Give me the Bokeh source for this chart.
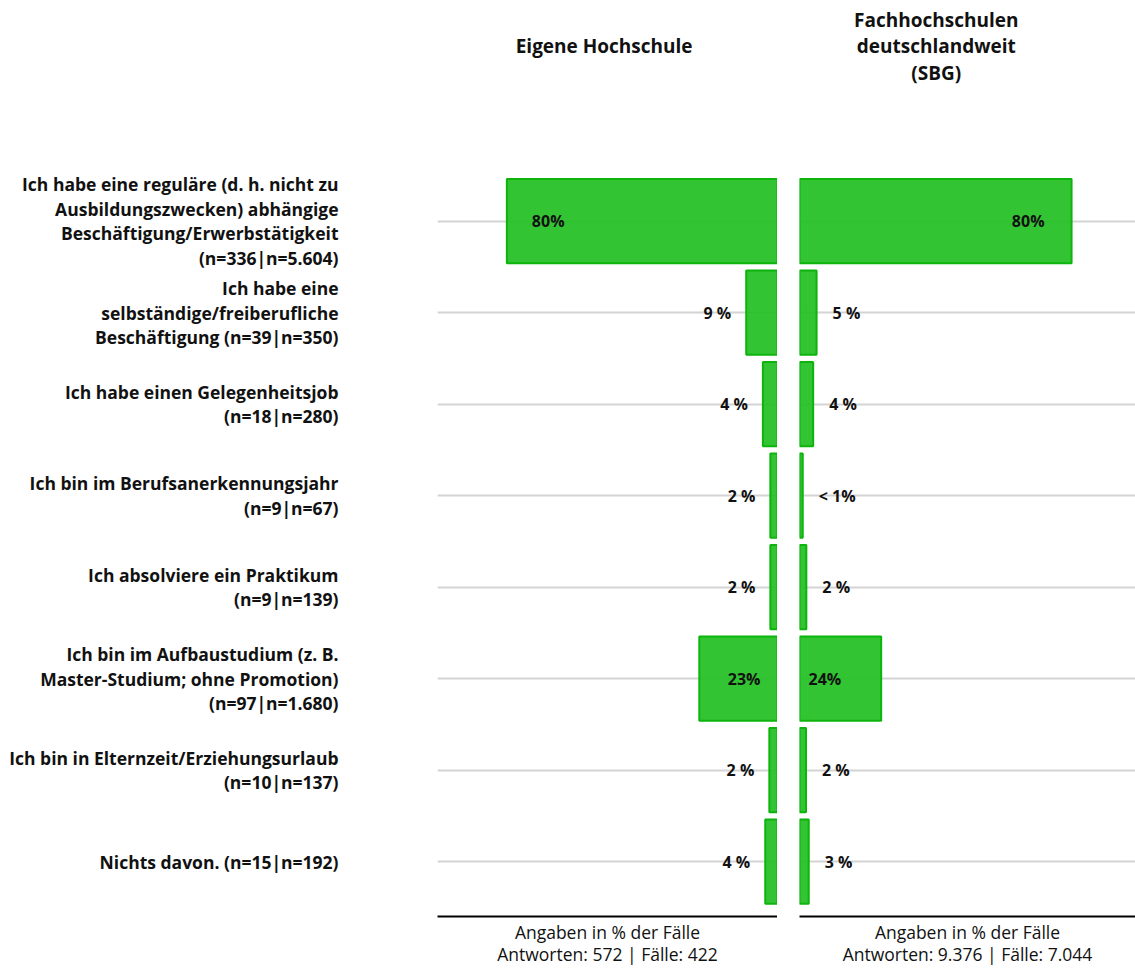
from bokeh.plotting import figure
from bokeh.layouts import row
from bokeh.models import Range1d, FixedTicker, Grid, ColumnDataSource
from bokeh.core.properties import value
from bokeh.embed import file_html
from bokeh.resources import INLINE

# ---------------- data ----------------
categories = [
    "Ich habe eine reguläre (d. h. nicht zu\nAusbildungszwecken) abhängige\nBeschäftigung/Erwerbstätigkeit\n(n=336|n=5.604)",
    "Ich habe eine\nselbständige/freiberufliche\nBeschäftigung (n=39|n=350)",
    "Ich habe einen Gelegenheitsjob\n(n=18|n=280)",
    "Ich bin im Berufsanerkennungsjahr\n(n=9|n=67)",
    "Ich absolviere ein Praktikum\n(n=9|n=139)",
    "Ich bin im Aufbaustudium (z. B.\nMaster-Studium; ohne Promotion)\n(n=97|n=1.680)",
    "Ich bin in Elternzeit/Erziehungsurlaub\n(n=10|n=137)",
    "Nichts davon. (n=15|n=192)",
]
own_pct = [79.6, 9.2, 4.3, 2.1, 2.1, 23.0, 2.4, 3.6]
sbg_pct = [79.6, 5.0, 4.0, 0.95, 2.0, 23.9, 1.9, 2.7]
own_labels = ["80%", "9 %", "4 %", "2 %", "2 %", "23%", "2 %", "4 %"]
sbg_labels = ["80%", "5 %", "4 %", "< 1%", "2 %", "24%", "2 %", "3 %"]
own_title = "Eigene Hochschule"
sbg_title = "Fachhochschulen\ndeutschlandweit\n(SBG)"
own_footer = "Angaben in % der Fälle\nAntworten: 572 | Fälle: 422"
sbg_footer = "Angaben in % der Fälle\nAntworten: 9.376 | Fälle: 7.044"

# ---------------- style ----------------
FONT = "Open Sans"
H = 969
BAR_FILL = "#22bf22"
BAR_LINE = "#0cb40c"
GRID = "#d4d4d4"
ys = list(range(len(categories)))
y_range = Range1d(start=7.6, end=-2.41)


def style_axis(p, footer, visible=True):
    ax = p.xaxis[0]
    ax.ticker = FixedTicker(ticks=[])
    ax.major_tick_line_color = None
    ax.minor_tick_line_color = None
    ax.axis_label = footer
    ax.axis_label_text_font = FONT
    ax.axis_label_text_font_style = "normal"
    ax.axis_label_text_font_size = "17.5px"
    ax.axis_label_standoff = 3
    ax.axis_label_text_line_height = 0.95
    if visible:
        ax.axis_line_color = "black"
        ax.axis_line_width = 2
        ax.axis_label_text_color = "#111111"
    else:
        ax.axis_line_color = None
        ax.axis_label_text_color = None


def base_fig(width, x_range, border_left=0):
    p = figure(width=width, height=H, x_range=x_range, y_range=y_range,
               toolbar_location=None, output_backend="svg",
               y_axis_location=None, min_border_left=border_left,
               min_border_right=0, min_border_top=0, min_border_bottom=0)
    p.outline_line_color = None
    p.grid.visible = False
    return p


# ---------------- label column ----------------
pl = base_fig(437, Range1d(0, 1))
style_axis(pl, own_footer, visible=False)
pl.text(x=[1] * len(categories), y=ys, text=categories, x_offset=-99,
        text_align="right", text_baseline="middle",
        text_font=value(FONT), text_font_style="bold", text_font_size="17.5px",
        text_line_height=1.02, text_color="#111111")


def panel(width, x_range, vals, labels, title, title_x, footer, side, border_left=0):
    p = base_fig(width, x_range, border_left)
    style_axis(p, footer)
    p.add_layout(Grid(dimension=1, ticker=FixedTicker(ticks=ys),
                      grid_line_color=GRID, grid_line_width=2))
    p.hbar(y=ys, left=0, right=vals, height=0.92, fill_color=BAR_FILL,
           fill_alpha=0.92, line_color=BAR_LINE, line_width=2)
    # value labels
    lx, off, al = [], [], []
    for v in vals:
        if v > 50:          # inside, near outer end
            lx.append(v); off.append(25 if side == "L" else -27)
            al.append("left" if side == "L" else "right")
        elif v > 15:        # inside, near inner end
            lx.append(0); off.append(-17 if side == "L" else 9)
            al.append("right" if side == "L" else "left")
        else:               # outside the bar
            lx.append(v); off.append(-15 if side == "L" else 16)
            al.append("right" if side == "L" else "left")
    src = ColumnDataSource(dict(x=lx, y=ys, t=labels, o=off, a=al))
    p.text(x="x", y="y", text="t", x_offset="o", text_align="a", source=src,
           text_baseline="middle", text_font=value(FONT), text_font_style="bold",
           text_font_size="16px", text_color="#111111")
    p.text(x=[title_x], y=[-1.91], text=[title], text_align="center",
           text_baseline="middle", text_font=value(FONT), text_font_style="bold",
           text_font_size="19px", text_line_height=1.02, text_color="#111111")
    return p


p_own = panel(340, Range1d(100, 0), own_pct, own_labels, own_title, 51, own_footer, "L")
p_sbg = panel(358, Range1d(0, 98.3), sbg_pct, sbg_labels, sbg_title, 40, sbg_footer, "R",
              border_left=22)

layout = row(pl, p_own, p_sbg, spacing=0)
open("out.html", "w").write(file_html(layout, INLINE))
